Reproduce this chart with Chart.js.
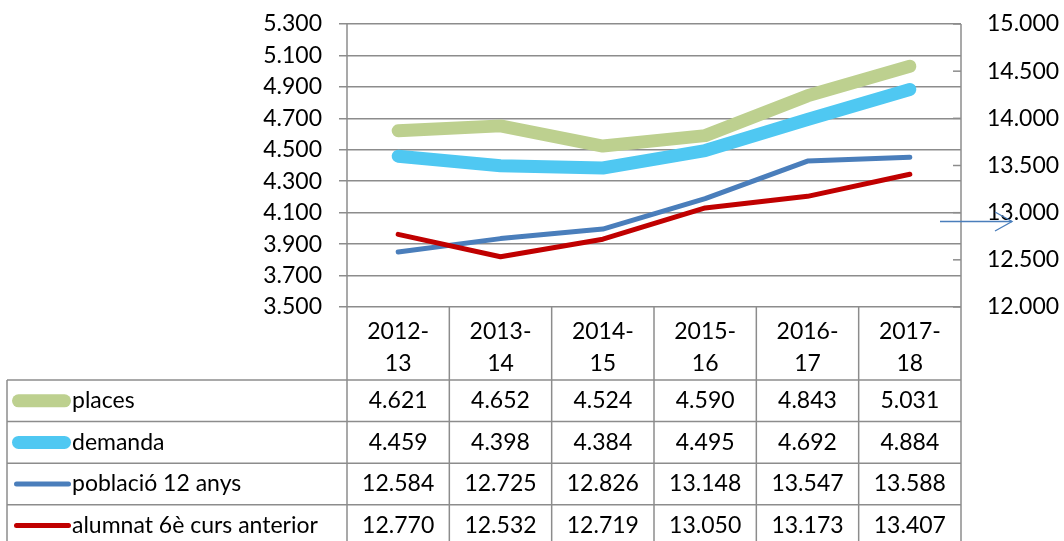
<!DOCTYPE html>
<html><head><meta charset="utf-8">
<script src="https://cdn.jsdelivr.net/npm/chart.js@4.4.1/dist/chart.umd.min.js"></script>
<style>html,body{margin:0;padding:0;background:#fff;}canvas{display:block}</style>
</head><body>
<canvas id="c" width="1064" height="541"></canvas>
<script>
const categories = [["2012-","13"],["2013-","14"],["2014-","15"],["2015-","16"],["2016-","17"],["2017-","18"]];
const seriesNames = ["places","demanda","població 12 anys","alumnat 6è curs anterior"];
const places   = [4621, 4652, 4524, 4590, 4843, 5031];
const demanda  = [4459, 4398, 4384, 4495, 4692, 4884];
const poblacio = [12584, 12725, 12826, 13148, 13547, 13588];
const alumnat  = [12770, 12532, 12719, 13050, 13173, 13407];
const leftAxis  = {min: 3500, max: 5300, step: 200};
const rightAxis = {min: 12000, max: 15000, step: 500};

const fmt = n => String(Math.round(n)).replace(/\B(?=(\d{3})+(?!\d))/g, '.');
const GRID = '#8c8c8c';
const FONT = {family: 'Lato', size: 23};
const colors = ['#bdd08f', '#4fc8f2', '#4a7ebb', '#c00000'];
const widths = [13, 13, 5, 5];
const allSeries = [places, demanda, poblacio, alumnat];

const tablePlugin = {
  id: 'dataTable',
  afterDraw(chart) {
    const ctx = chart.ctx, ca = chart.chartArea, xs = chart.scales.x, ys = chart.scales.y, y1 = chart.scales.y1;
    const n = categories.length;
    const left = ca.left, right = ca.right;
    const top = ys.getPixelForValue(leftAxis.max);
    const axisBottom = ys.getPixelForValue(leftAxis.min);
    const colW = (right - left) / n;
    const headerBottom = axisBottom + 73;
    const rowH = 41.6;
    const tableLeft = 7;
    const bottom = chart.height + 2;
    ctx.save();
    ctx.strokeStyle = GRID; ctx.lineWidth = 1.5;
    for (let i = 0; i <= n; i++) {
      const x = left + i * colW;
      ctx.beginPath(); ctx.moveTo(x, (i === 0 || i === n) ? top : axisBottom); ctx.lineTo(x, bottom); ctx.stroke();
    }
    ctx.beginPath(); ctx.moveTo(tableLeft, headerBottom); ctx.lineTo(tableLeft, bottom); ctx.stroke();
    for (let r = 0; r <= allSeries.length; r++) {
      const y = headerBottom + r * rowH;
      ctx.beginPath(); ctx.moveTo(tableLeft, y); ctx.lineTo(right, y); ctx.stroke();
    }
    for (let v = rightAxis.min; v <= rightAxis.max; v += rightAxis.step) {
      const y = y1.getPixelForValue(v);
      ctx.beginPath(); ctx.moveTo(right - 8, y); ctx.lineTo(right, y); ctx.stroke();
    }
    ctx.font = FONT.size + 'px ' + FONT.family;
    ctx.textBaseline = 'middle';
    allSeries.forEach((vals, r) => {
      const yc = headerBottom + r * rowH + rowH / 2;
      ctx.strokeStyle = colors[r]; ctx.lineWidth = widths[r]; ctx.lineCap = 'round';
      const half = widths[r] / 2;
      ctx.beginPath(); ctx.moveTo(12 + half + (r > 1 ? 2 : 0), yc); ctx.lineTo(71 - half, yc); ctx.stroke();
      ctx.fillStyle = '#000'; ctx.textAlign = 'left';
      ctx.fillText(seriesNames[r], 72, yc);
      ctx.textAlign = 'center';
      vals.forEach((v, i) => ctx.fillText(fmt(v), xs.getPixelForValue(i), yc));
    });
    ctx.strokeStyle = '#4a7ebb'; ctx.lineWidth = 1.3; ctx.lineCap = 'butt';
    ctx.beginPath(); ctx.moveTo(940, 221.5); ctx.lineTo(1012, 221.5); ctx.stroke();
    ctx.beginPath(); ctx.moveTo(995, 212); ctx.lineTo(1012, 221.5); ctx.lineTo(995, 231); ctx.stroke();
    ctx.restore();
  }
};

const mk = (i, data, axis) => ({
  label: seriesNames[i], data, yAxisID: axis,
  borderColor: colors[i], backgroundColor: colors[i], borderWidth: widths[i],
  pointRadius: 0, pointHoverRadius: 0, tension: 0,
  borderCapStyle: 'round', borderJoinStyle: 'round', fill: false, order: 4 - i
});

const noPadV = s => { s.paddingTop = 0; s.paddingBottom = 0; };

new Chart(document.getElementById('c'), {
  type: 'line',
  data: {
    labels: categories,
    datasets: [mk(0, places, 'y'), mk(1, demanda, 'y'), mk(2, poblacio, 'y1'), mk(3, alumnat, 'y1')]
  },
  options: {
    responsive: false, animation: false,
    layout: {padding: {top: 24, left: 0, right: 0, bottom: 0}},
    plugins: {legend: {display: false}, tooltip: {enabled: false}},
    scales: {
      x: {
        offset: true,
        grid: {display: false},
        border: {display: false},
        ticks: {font: {family: 'Lato', size: 23, lineHeight: 32/23}, color: '#000', padding: 1, maxRotation: 0, autoSkip: false},
        afterFit(s) { s.height = 234; s.paddingLeft = 0; s.paddingRight = 0; }
      },
      y: {
        position: 'left', min: leftAxis.min, max: leftAxis.max,
        grid: {color: GRID, lineWidth: 1.5, drawTicks: true, tickLength: 8},
        border: {display: false},
        ticks: {stepSize: leftAxis.step, autoSkip: false, font: FONT, color: '#000', padding: 17, callback: v => fmt(v)},
        afterFit(s) { s.width = 347; noPadV(s); }
      },
      y1: {
        position: 'right', min: rightAxis.min, max: rightAxis.max,
        grid: {drawOnChartArea: false, drawTicks: false},
        border: {display: false},
        ticks: {stepSize: rightAxis.step, autoSkip: false, font: FONT, color: '#000', padding: 26, callback: v => fmt(v)},
        afterFit(s) { s.width = 103; noPadV(s); }
      }
    }
  },
  plugins: [tablePlugin]
});
</script>
</body></html>
